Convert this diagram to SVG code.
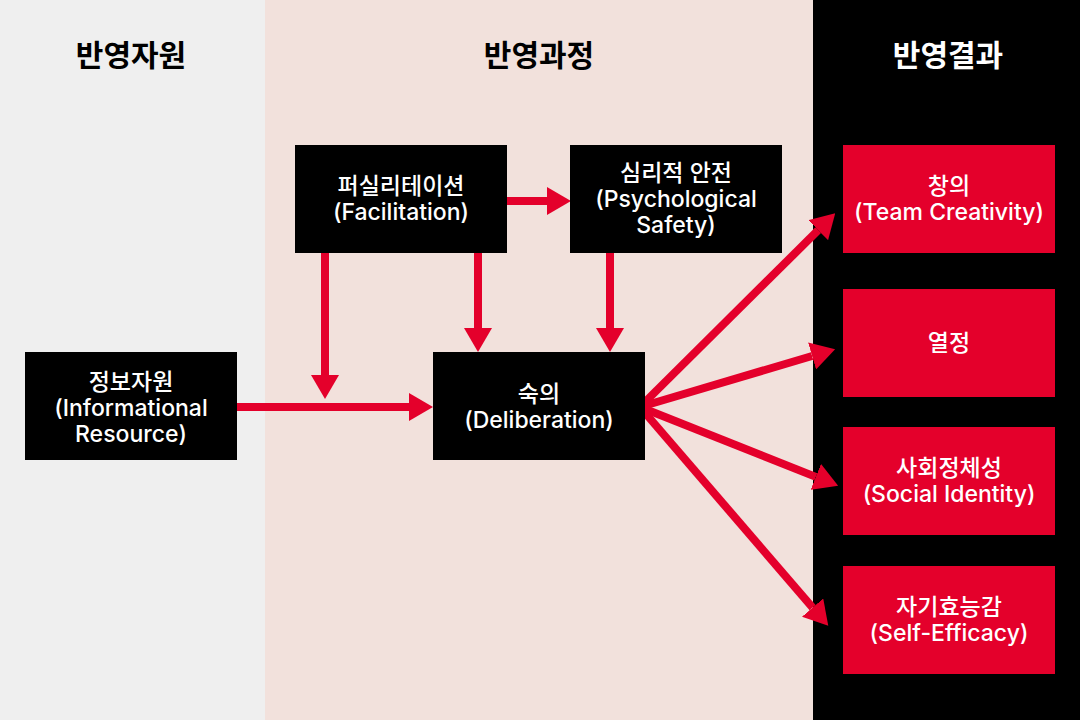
<svg xmlns="http://www.w3.org/2000/svg" width="1080" height="720" viewBox="0 0 1080 720">
<style>
.hd{font-family:"Inter","Noto Sans CJK KR",sans-serif;font-size:30px;font-weight:700;text-anchor:middle}
.t{font-family:"Inter","Noto Sans CJK KR",sans-serif;font-size:23px;font-weight:500;fill:#ffffff;text-anchor:middle}
.bk{fill:#000000}
.rd{fill:#e4002b}
.c{stroke:#e4002b;stroke-width:8;fill:none}
</style>
<defs>
<marker id="ah" markerUnits="userSpaceOnUse" markerWidth="24" markerHeight="28" viewBox="0 0 24 28" refX="0" refY="14" orient="auto">
<path d="M0,0 L24,14 L0,28 z" fill="#e4002b"/>
</marker>
</defs>
<rect x="0" y="0" width="265" height="720" fill="#efefef"/>
<rect x="265" y="0" width="548" height="720" fill="#f2e1dc"/>
<rect x="813" y="0" width="267" height="720" fill="#000000"/>
<text class="hd" x="131" y="66" fill="#000">반영자원</text>
<text class="hd" x="539" y="66" fill="#000">반영과정</text>
<text class="hd" x="948" y="66" fill="#fff">반영결과</text>
<g id="connectors">
<line class="c" x1="507" y1="201" x2="547" y2="201" marker-end="url(#ah)"/>
<line class="c" x1="325" y1="253" x2="325" y2="375" marker-end="url(#ah)"/>
<line class="c" x1="478" y1="253" x2="478" y2="328" marker-end="url(#ah)"/>
<line class="c" x1="610" y1="253" x2="610" y2="328" marker-end="url(#ah)"/>
<line class="c" x1="237" y1="407" x2="409" y2="407" marker-end="url(#ah)"/>
<line class="c" x1="640" y1="407" x2="818.2" y2="230.2" marker-end="url(#ah)"/>
<line class="c" x1="640" y1="407" x2="812.1" y2="356" marker-end="url(#ah)"/>
<line class="c" x1="640" y1="407" x2="815.8" y2="476.9" marker-end="url(#ah)"/>
<line class="c" x1="640" y1="407" x2="812.6" y2="607.6" marker-end="url(#ah)"/>
</g>
<g id="node-info">
<rect class="bk" x="25" y="352" width="212" height="108"/>
<text class="t" x="131" y="390"><tspan x="131">정보자원</tspan><tspan x="131" dy="26">(Informational</tspan><tspan x="131" dy="26">Resource)</tspan></text>
</g>
<g id="node-facilitation">
<rect class="bk" x="295" y="145" width="212" height="108"/>
<text class="t" x="401" y="194"><tspan x="401">퍼실리테이션</tspan><tspan x="401" dy="26">(Facilitation)</tspan></text>
</g>
<g id="node-psych">
<rect class="bk" x="570" y="145" width="212" height="108"/>
<text class="t" x="676" y="181"><tspan x="676">심리적 안전</tspan><tspan x="676" dy="26">(Psychological</tspan><tspan x="676" dy="26">Safety)</tspan></text>
</g>
<g id="node-deliberation">
<rect class="bk" x="433" y="352" width="212" height="108"/>
<text class="t" x="539" y="402"><tspan x="539">숙의</tspan><tspan x="539" dy="26">(Deliberation)</tspan></text>
</g>
<g id="node-creativity">
<rect class="rd" x="843" y="145" width="212" height="108"/>
<text class="t" x="949" y="194"><tspan x="949">창의</tspan><tspan x="949" dy="26">(Team Creativity)</tspan></text>
</g>
<g id="node-passion">
<rect class="rd" x="843" y="289" width="212" height="108"/>
<text class="t" x="949" y="351">열정</text>
</g>
<g id="node-identity">
<rect class="rd" x="843" y="427" width="212" height="108"/>
<text class="t" x="949" y="476"><tspan x="949">사회정체성</tspan><tspan x="949" dy="26">(Social Identity)</tspan></text>
</g>
<g id="node-efficacy">
<rect class="rd" x="843" y="566" width="212" height="108"/>
<text class="t" x="949" y="615"><tspan x="949">자기효능감</tspan><tspan x="949" dy="26">(Self-Efficacy)</tspan></text>
</g>
</svg>
